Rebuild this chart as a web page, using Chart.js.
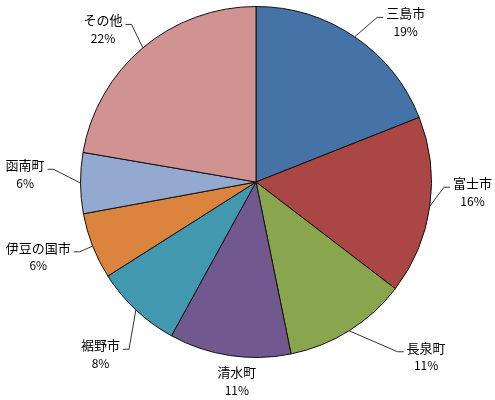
<!DOCTYPE html>
<html lang="ja">
<head>
<meta charset="utf-8">
<script src="https://cdn.jsdelivr.net/npm/chart.js@4.4.1/dist/chart.umd.min.js"></script>
<style>
  html, body { margin: 0; padding: 0; background: #fff; }
  #wrap { width: 495px; height: 400px; position: relative; }
</style>
</head>
<body>
<div id="wrap"><canvas id="pie"></canvas></div>
<script>
// share of each area (%)
const areas = ['三島市', '富士市', '長泉町', '清水町', '裾野市', '伊豆の国市', '函南町', 'その他'];
const shares = [19.0, 16.4, 11.4, 11.2, 8.0, 6.1, 5.6, 22.3];
const sliceColors = ['#4572A7', '#AA4643', '#89A54E', '#71588F', '#4198AF', '#DB843D', '#93A9CF', '#D19392'];

// where each label was dragged to: turn from the slice's middle (deg), distance past the rim (px)
const labelTurn = [7.4, -7.6, -13.7, -2.9, 0.4, 4.6, 4.5, -3.3];
const labelReach = [50, 41, 62, 16, 50, 52, 56, 47];

// Excel-style labels outside the pie, name over percent, with leader lines
const outsideLabels = {
  id: 'outsideLabels',
  afterDatasetsDraw(chart, args, opts) {
    const { ctx } = chart;
    const meta = chart.getDatasetMeta(0);
    const total = shares.reduce((a, b) => a + b, 0);

    ctx.save();
    ctx.textAlign = 'center';
    ctx.textBaseline = 'middle';
    meta.data.forEach((arc, i) => {
      const { x, y, startAngle, endAngle, outerRadius } =
        arc.getProps(['x', 'y', 'startAngle', 'endAngle', 'outerRadius'], true);
      const mid = (startAngle + endAngle) / 2;
      const name = areas[i];
      const pct = Math.round(shares[i] / total * 100) + '%';

      const a = mid + labelTurn[i] * Math.PI / 180;
      const d = outerRadius + labelReach[i];
      const cx = x + d * Math.cos(a);
      const nameY = y + d * Math.sin(a);
      const pctY = nameY + opts.lineGap;

      ctx.font = opts.nameFont;
      const wName = ctx.measureText(name).width;

      // leader line: rim of slice -> elbow -> short tick beside the name
      if (labelReach[i] > 25) {
        const ex = x + outerRadius * Math.cos(mid), ey = y + outerRadius * Math.sin(mid);
        const right = cx > x;
        const nearX = right ? cx - wName / 2 - 3 : cx + wName / 2 + 3;
        const elbowX = right ? nearX - 6 : nearX + 6;
        const tickY = nameY + 4;
        ctx.strokeStyle = opts.lineColor;
        ctx.lineWidth = 1;
        ctx.beginPath();
        ctx.moveTo(ex, ey);
        ctx.lineTo(elbowX, tickY);
        ctx.lineTo(nearX, tickY);
        ctx.stroke();
      }

      ctx.fillStyle = opts.color;
      ctx.fillText(name, cx, nameY);
      ctx.font = opts.pctFont;
      ctx.fillText(pct, cx, pctY);
    });
    ctx.restore();
  }
};

new Chart(document.getElementById('pie'), {
  type: 'pie',
  data: {
    labels: areas,
    datasets: [{
      data: shares,
      backgroundColor: sliceColors,
      borderColor: '#111',
      borderWidth: 1
    }]
  },
  options: {
    responsive: true,
    maintainAspectRatio: false,
    animation: false,
    layout: { padding: { left: 80, right: 63, top: 6, bottom: 42 } },
    plugins: {
      legend: { display: false },
      tooltip: { enabled: false },
      outsideLabels: {
        nameFont: '13px "Noto Sans CJK JP"',
        pctFont: '12px "Noto Sans CJK JP"',
        color: '#000',
        lineColor: '#333',
        lineGap: 18
      }
    }
  },
  plugins: [outsideLabels]
});
</script>
</body>
</html>
